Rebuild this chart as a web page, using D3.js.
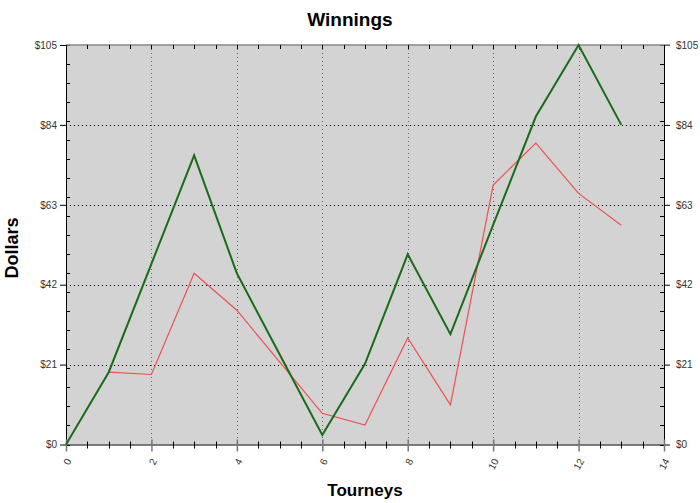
<!DOCTYPE html>
<html><head><meta charset="utf-8">
<script src="https://cdn.jsdelivr.net/npm/d3@7"></script>
<style>body{margin:0;background:#fff}svg{display:block}text{font-family:"Liberation Sans",Arial,sans-serif}</style>
</head><body>
<script>
const title = "Winnings";
const xTitle = "Tourneys";
const yTitle = "Dollars";
const greenX = [0,1,2,3,4,5,6,7,8,9,10,11,12,13];
const greenY = [0,19,47.5,76,45,23.7,2.5,21.2,50,29,57.7,86.2,105,84];
const redX = [1,2,3,4,5,6,7,8,9,10,11,12,13];
const redY = [19,18.4,45,35.3,21.7,8.2,5.1,28,10.4,68.2,79.2,66,57.6];
const xTicks = [0,2,4,6,8,10,12,14];
const yTicks = [0,21,42,63,84,105];

const W=700,H=503;
const L=66,R=664,T=45,B=444.5;
const svg=d3.select("body").append("svg").attr("width",W).attr("height",H);
const x=d3.scaleLinear().domain([0,14]).range([L,R]);
const y=d3.scaleLinear().domain([0,105]).range([B,T]);

svg.append("rect").attr("x",L).attr("y",T).attr("width",R-L).attr("height",B-T).attr("fill","#d3d3d3");

// gridlines
svg.append("g").selectAll("line").data(yTicks.filter(d=>d>0&&d<105)).join("line")
  .attr("x1",L).attr("x2",R).attr("y1",d=>Math.round(y(d))+0.5).attr("y2",d=>Math.round(y(d))+0.5)
  .attr("stroke","#000").attr("stroke-width",1).attr("stroke-dasharray","1,3");
svg.append("g").selectAll("line").data(xTicks.filter(d=>d>0&&d<14)).join("line")
  .attr("x1",d=>Math.round(x(d))+0.5).attr("x2",d=>Math.round(x(d))+0.5).attr("y1",T).attr("y2",B)
  .attr("stroke","#666").attr("stroke-width",1).attr("stroke-dasharray","1,3");

// axes
const minorY=d3.range(0,106,5);
const minorX=d3.range(0,14.01,0.5);
const axL=d3.axisLeft(y).tickValues(yTicks).tickFormat(d=>"$"+d).tickSize(6).tickSizeOuter(0).tickPadding(3);
const axR=d3.axisRight(y).tickValues(yTicks).tickFormat(d=>"$"+d).tickSize(6).tickSizeOuter(0).tickPadding(6);
const gL=svg.append("g").attr("transform",`translate(${L},0)`).call(axL);
const gR=svg.append("g").attr("transform",`translate(${R},0)`).call(axR);
[gL,gR].forEach(g=>{g.select(".domain").attr("stroke","#000");g.selectAll("text").attr("font-size",10).attr("fill","#333").attr("font-family","Liberation Sans,Arial,sans-serif");g.selectAll(".tick line").attr("stroke","#000");});
svg.append("g").selectAll("line").data(minorY).join("line")
  .attr("x1",L).attr("x2",L+4).attr("y1",d=>Math.round(y(d))+0.5).attr("y2",d=>Math.round(y(d))+0.5).attr("stroke","#000");
svg.append("g").selectAll("line").data(minorY).join("line")
  .attr("x1",R-4).attr("x2",R).attr("y1",d=>Math.round(y(d))+0.5).attr("y2",d=>Math.round(y(d))+0.5).attr("stroke","#000");

// top axis
svg.append("line").attr("x1",L).attr("x2",R+6).attr("y1",T).attr("y2",T).attr("stroke","#888").attr("stroke-width",1.5);
svg.append("g").selectAll("line").data(minorX).join("line")
  .attr("x1",d=>Math.round(x(d))+0.5).attr("x2",d=>Math.round(x(d))+0.5).attr("y1",T).attr("y2",T+4).attr("stroke","#000");

// bottom axis
const axB=d3.axisBottom(x).tickValues(xTicks).tickFormat(d3.format("d")).tickSize(7).tickSizeOuter(0);
const gB=svg.append("g").attr("transform",`translate(0,${B})`).call(axB);
gB.select(".domain").attr("stroke","#000");
gB.selectAll(".tick line").attr("stroke","#777").attr("stroke-width",1.5).attr("y1",-5);
gB.selectAll(".tick text").attr("font-size",10).attr("fill","#333").attr("text-anchor","end")
  .attr("dy",null).attr("y",null).attr("transform","translate(3,15) rotate(-63)").attr("dominant-baseline","middle");
svg.append("g").selectAll("line").data(minorX.filter(d=>d%2!==0)).join("line")
  .attr("x1",d=>Math.round(x(d))+0.5).attr("x2",d=>Math.round(x(d))+0.5).attr("y1",B-3).attr("y2",B+4).attr("stroke","#000");

// lines
const line=d3.line().x(d=>x(d[0])).y(d=>y(d[1]));
svg.append("path").datum(redX.map((d,i)=>[d,redY[i]])).attr("d",line).attr("fill","none").attr("stroke","#f05050").attr("stroke-width",1.2);
svg.append("path").datum(greenX.map((d,i)=>[d,greenY[i]])).attr("d",line).attr("fill","none").attr("stroke","#1a6b1a").attr("stroke-width",2);

// titles
svg.append("text").attr("x",350).attr("y",26).attr("text-anchor","middle").attr("font-size",19).attr("font-weight","bold").text(title);
svg.append("text").attr("x",(L+R)/2).attr("y",496).attr("text-anchor","middle").attr("font-size",17).attr("font-weight","bold").text(xTitle);
svg.append("text").attr("transform","translate(18,248) rotate(-90)").attr("text-anchor","middle").attr("font-size",18).attr("font-weight","bold").text(yTitle);
</script>
</body></html>
